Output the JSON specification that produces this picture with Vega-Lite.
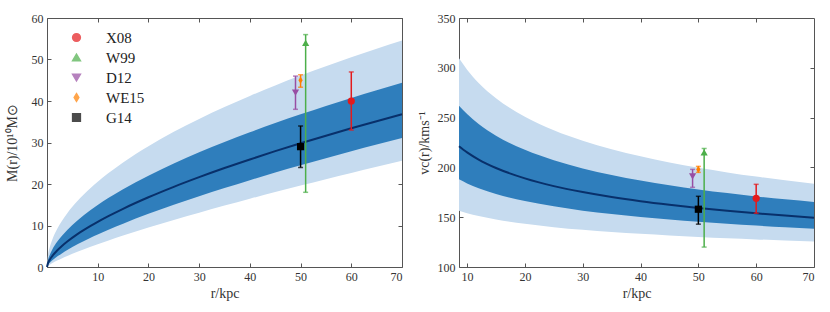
{
  "$schema": "https://vega.github.io/schema/vega-lite/v6.json",
  "background": "white",
  "padding": {"left": 4, "top": 11, "right": 5, "bottom": 0},
  "spacing": 9,
  "config": {
    "view": {"stroke": "#555", "strokeWidth": 1},
    "font": "Liberation Serif",
    "axis": {
      "labelFont": "Liberation Serif", "labelFontSize": 12, "labelColor": "#333",
      "titleFont": "Liberation Serif", "titleFontSize": 14, "titleFontWeight": "normal", "titleColor": "#333",
      "tickSize": -4, "tickColor": "#555", "labelPadding": 8, "domain": false, "grid": false
    },
    "axisY": {"minExtent": 24, "maxExtent": 24, "titlePadding": 4},
    "axisX": {"titlePadding": 4}
  },
  "datasets": {
    "curve": [
      {"r": 0, "m_med": 0, "m_hi1": 0, "m_lo1": 0, "m_hi2": 0, "m_lo2": 0},
      {"r": 0.2, "m_med": 0.94, "m_hi1": 1.67, "m_lo1": 0.49, "m_hi2": 2.88, "m_lo2": 0.25},
      {"r": 0.5, "m_med": 1.67, "m_hi1": 2.79, "m_lo1": 0.94, "m_hi2": 4.57, "m_lo2": 0.51},
      {"r": 1, "m_med": 2.58, "m_hi1": 4.11, "m_lo1": 1.54, "m_hi2": 6.47, "m_lo2": 0.89},
      {"r": 2, "m_med": 3.97, "m_hi1": 6.06, "m_lo1": 2.51, "m_hi2": 9.17, "m_lo2": 1.54},
      {"r": 3, "m_med": 5.12, "m_hi1": 7.61, "m_lo1": 3.34, "m_hi2": 11.23, "m_lo2": 2.12},
      {"r": 4, "m_med": 6.13, "m_hi1": 8.94, "m_lo1": 4.10, "m_hi2": 12.98, "m_lo2": 2.66},
      {"r": 6, "m_med": 7.91, "m_hi1": 11.22, "m_lo1": 5.46, "m_hi2": 15.91, "m_lo2": 3.67},
      {"r": 8.6, "m_med": 9.90, "m_hi1": 13.72, "m_lo1": 7.05, "m_hi2": 19.06, "m_lo2": 4.87, "v_med": 221.3, "v_hi1": 262.0, "v_lo1": 188.0, "v_hi2": 309.5, "v_lo2": 156.5},
      {"r": 10, "m_med": 10.89, "m_hi1": 14.93, "m_lo1": 7.84, "m_hi2": 20.56, "m_lo2": 5.49, "v_med": 215.1, "v_hi1": 253.5, "v_lo1": 183.9, "v_hi2": 298.1, "v_lo2": 154.0},
      {"r": 12, "m_med": 12.20, "m_hi1": 16.54, "m_lo1": 8.92, "m_hi2": 22.53, "m_lo2": 6.34, "v_med": 207.9, "v_hi1": 243.5, "v_lo1": 179.0, "v_hi2": 284.8, "v_lo2": 151.1},
      {"r": 15, "m_med": 14.03, "m_hi1": 18.74, "m_lo1": 10.45, "m_hi2": 25.20, "m_lo2": 7.57, "v_med": 199.4, "v_hi1": 231.8, "v_lo1": 173.3, "v_hi2": 269.4, "v_lo2": 147.7},
      {"r": 20, "m_med": 16.80, "m_hi1": 22.01, "m_lo1": 12.81, "m_hi2": 29.11, "m_lo2": 9.50, "v_med": 189.0, "v_hi1": 217.6, "v_lo1": 166.2, "v_hi2": 250.8, "v_lo2": 143.3},
      {"r": 25, "m_med": 19.32, "m_hi1": 24.94, "m_lo1": 15.00, "m_hi2": 32.57, "m_lo2": 11.34, "v_med": 181.2, "v_hi1": 207.2, "v_lo1": 160.9, "v_hi2": 237.2, "v_lo2": 140.0},
      {"r": 30, "m_med": 21.65, "m_hi1": 27.63, "m_lo1": 17.07, "m_hi2": 35.69, "m_lo2": 13.10, "v_med": 175.2, "v_hi1": 199.0, "v_lo1": 156.6, "v_hi2": 226.7, "v_lo2": 137.3},
      {"r": 35, "m_med": 23.85, "m_hi1": 30.12, "m_lo1": 19.04, "m_hi2": 38.56, "m_lo2": 14.80, "v_med": 170.2, "v_hi1": 192.4, "v_lo1": 153.1, "v_hi2": 218.2, "v_lo2": 135.1},
      {"r": 40, "m_med": 25.92, "m_hi1": 32.46, "m_lo1": 20.93, "m_hi2": 41.23, "m_lo2": 16.45, "v_med": 166.0, "v_hi1": 186.8, "v_lo1": 150.2, "v_hi2": 211.1, "v_lo2": 133.3},
      {"r": 45, "m_med": 27.91, "m_hi1": 34.67, "m_lo1": 22.75, "m_hi2": 43.74, "m_lo2": 18.05, "v_med": 162.4, "v_hi1": 182.1, "v_lo1": 147.6, "v_hi2": 205.0, "v_lo2": 131.6},
      {"r": 50, "m_med": 29.81, "m_hi1": 36.78, "m_lo1": 24.51, "m_hi2": 46.12, "m_lo2": 19.62, "v_med": 159.2, "v_hi1": 177.9, "v_lo1": 145.4, "v_hi2": 199.6, "v_lo2": 130.2},
      {"r": 55, "m_med": 31.64, "m_hi1": 38.79, "m_lo1": 26.22, "m_hi2": 48.37, "m_lo2": 21.15, "v_med": 156.4, "v_hi1": 174.2, "v_lo1": 143.4, "v_hi2": 195.0, "v_lo2": 128.9},
      {"r": 60, "m_med": 33.42, "m_hi1": 40.73, "m_lo1": 27.88, "m_hi2": 50.53, "m_lo2": 22.66, "v_med": 153.9, "v_hi1": 170.9, "v_lo1": 141.6, "v_hi2": 190.8, "v_lo2": 127.7},
      {"r": 65, "m_med": 35.13, "m_hi1": 42.60, "m_lo1": 29.51, "m_hi2": 52.61, "m_lo2": 24.14, "v_med": 151.6, "v_hi1": 167.9, "v_lo1": 139.9, "v_hi2": 187.0, "v_lo2": 126.7},
      {"r": 70, "m_med": 36.80, "m_hi1": 44.40, "m_lo1": 31.10, "m_hi2": 54.60, "m_lo2": 25.60, "v_med": 149.5, "v_hi1": 165.2, "v_lo1": 138.4, "v_hi2": 183.6, "v_lo2": 125.7}
    ],
    "pts": [
      {"src": "X08", "r": 60, "m": 40, "m_lo": 33, "m_hi": 47, "v": 169, "v_lo": 154, "v_hi": 183},
      {"src": "W99", "r": 51, "m": 54, "m_lo": 18, "m_hi": 56, "v": 215, "v_lo": 120, "v_hi": 219},
      {"src": "D12", "r": 49, "m": 42, "m_lo": 38, "m_hi": 46, "v": 191, "v_lo": 180, "v_hi": 198},
      {"src": "WE15", "r": 50, "m": 45, "m_lo": 43.3, "m_hi": 46.3, "v": 198, "v_lo": 195, "v_hi": 201},
      {"src": "G14", "r": 50, "m": 29, "m_lo": 24, "m_hi": 34, "v": 158, "v_lo": 143, "v_hi": 171}
    ]
  },
  "hconcat": [
    {
      "width": 355, "height": 249,
      "resolve": {"axis": {"x": "independent", "y": "independent"}},
      "layer": [
        {
          "data": {"name": "curve"},
          "mark": {"type": "area", "color": "#c6dbef", "interpolate": "monotone"},
          "encoding": {
            "x": {"field": "r", "type": "quantitative", "scale": {"domain": [0, 70], "nice": false, "zero": false},
                  "axis": {"values": [10, 20, 30, 40, 50, 60, 70], "title": "r/kpc"}},
            "y": {"field": "m_lo2", "type": "quantitative", "scale": {"domain": [0, 60], "nice": false},
                  "axis": {"values": [0, 10, 20, 30, 40, 50, 60], "title": "M(r)/10¹⁰M⊙"}},
            "y2": {"field": "m_hi2"}
          }
        },
        {
          "data": {"name": "curve"},
          "mark": {"type": "area", "color": "#2f7ebc", "interpolate": "monotone"},
          "encoding": {
            "x": {"field": "r", "type": "quantitative", "axis": null},
            "y": {"field": "m_lo1", "type": "quantitative", "axis": null},
            "y2": {"field": "m_hi1"}
          }
        },
        {
          "data": {"name": "curve"},
          "mark": {"type": "line", "color": "#08306b", "strokeWidth": 2, "interpolate": "monotone"},
          "encoding": {
            "x": {"field": "r", "type": "quantitative",
                  "axis": {"orient": "top", "labels": false, "title": null, "values": [10, 20, 30, 40, 50, 60, 70], "minExtent": 0, "maxExtent": 0}},
            "y": {"field": "m_med", "type": "quantitative",
                  "axis": {"orient": "right", "labels": false, "title": null, "values": [10, 20, 30, 40, 50, 60], "minExtent": 0, "maxExtent": 0}}
          }
        },
        {
          "data": {"name": "pts"},
          "mark": {"type": "errorbar", "ticks": {"size": 5}, "thickness": 1.5},
          "encoding": {
            "x": {"field": "r", "type": "quantitative", "axis": null},
            "y": {"field": "m_lo", "type": "quantitative", "axis": null},
            "y2": {"field": "m_hi"},
            "color": {"field": "src", "type": "nominal",
                      "scale": {"domain": ["X08", "W99", "D12", "WE15", "G14"], "range": ["#e41a1c", "#4daf4a", "#984ea3", "#ff7f00", "#000000"]}}
          }
        },
        {
          "data": {"name": "pts"},
          "mark": {"type": "point", "filled": true, "opacity": 1, "size": 52},
          "encoding": {
            "x": {"field": "r", "type": "quantitative", "axis": null},
            "y": {"field": "m", "type": "quantitative", "axis": null},
            "color": {"field": "src", "type": "nominal",
                      "scale": {"domain": ["X08", "W99", "D12", "WE15", "G14"], "range": ["#e41a1c", "#4daf4a", "#984ea3", "#ff7f00", "#000000"]},
                      "legend": {"title": null, "orient": "none", "legendX": 22, "legendY": 12, "symbolSize": 60, "symbolOpacity": 1, "zindex": 2,
                                 "labelFontSize": 15, "labelFont": "Liberation Serif", "labelColor": "#222", "rowPadding": 4, "labelOffset": 22, "padding": 0}},
            "shape": {"field": "src", "type": "nominal",
                      "scale": {"domain": ["X08", "W99", "D12", "WE15", "G14"], "range": ["circle", "triangle-up", "triangle-down", "M0,-1L0.6,0L0,1L-0.6,0Z", "square"]},
                      "legend": {"title": null, "orient": "none", "legendX": 22, "legendY": 12, "symbolSize": 60, "symbolOpacity": 1, "zindex": 2,
                                 "labelFontSize": 15, "labelFont": "Liberation Serif", "labelColor": "#222", "rowPadding": 4, "labelOffset": 22, "padding": 0}}
          }
        }
      ]
    },
    {
      "width": 355, "height": 249,
      "resolve": {"axis": {"x": "independent", "y": "independent"}},
      "layer": [
        {
          "data": {"name": "curve"},
          "transform": [{"filter": "datum.r >= 8.6"}],
          "mark": {"type": "area", "color": "#c6dbef", "interpolate": "monotone"},
          "encoding": {
            "x": {"field": "r", "type": "quantitative", "scale": {"domain": [8.6, 70], "nice": false, "zero": false},
                  "axis": {"values": [10, 20, 30, 40, 50, 60, 70], "title": "r/kpc"}},
            "y": {"field": "v_lo2", "type": "quantitative", "scale": {"domain": [100, 350], "nice": false, "zero": false},
                  "axis": {"values": [100, 150, 200, 250, 300, 350], "title": "vc(r)/kms⁻¹"}},
            "y2": {"field": "v_hi2"}
          }
        },
        {
          "data": {"name": "curve"},
          "transform": [{"filter": "datum.r >= 8.6"}],
          "mark": {"type": "area", "color": "#2f7ebc", "interpolate": "monotone"},
          "encoding": {
            "x": {"field": "r", "type": "quantitative", "axis": null},
            "y": {"field": "v_lo1", "type": "quantitative", "axis": null},
            "y2": {"field": "v_hi1"}
          }
        },
        {
          "data": {"name": "curve"},
          "transform": [{"filter": "datum.r >= 8.6"}],
          "mark": {"type": "line", "color": "#08306b", "strokeWidth": 2, "interpolate": "monotone"},
          "encoding": {
            "x": {"field": "r", "type": "quantitative",
                  "axis": {"orient": "top", "labels": false, "title": null, "values": [10, 20, 30, 40, 50, 60], "minExtent": 0, "maxExtent": 0}},
            "y": {"field": "v_med", "type": "quantitative",
                  "axis": {"orient": "right", "labels": false, "title": null, "values": [150, 200, 250, 300], "minExtent": 0, "maxExtent": 0}}
          }
        },
        {
          "data": {"name": "pts"},
          "mark": {"type": "errorbar", "ticks": {"size": 5}, "thickness": 1.5},
          "encoding": {
            "x": {"field": "r", "type": "quantitative", "axis": null},
            "y": {"field": "v_lo", "type": "quantitative", "axis": null},
            "y2": {"field": "v_hi"},
            "color": {"field": "src", "type": "nominal", "legend": null,
                      "scale": {"domain": ["X08", "W99", "D12", "WE15", "G14"], "range": ["#e41a1c", "#4daf4a", "#984ea3", "#ff7f00", "#000000"]}}
          }
        },
        {
          "data": {"name": "pts"},
          "mark": {"type": "point", "filled": true, "opacity": 1, "size": 52},
          "encoding": {
            "x": {"field": "r", "type": "quantitative", "axis": null},
            "y": {"field": "v", "type": "quantitative", "axis": null},
            "color": {"field": "src", "type": "nominal", "legend": null},
            "shape": {"field": "src", "type": "nominal", "legend": null,
                      "scale": {"domain": ["X08", "W99", "D12", "WE15", "G14"], "range": ["circle", "triangle-up", "triangle-down", "M0,-1L0.6,0L0,1L-0.6,0Z", "square"]}}
          }
        }
      ]
    }
  ]
}
